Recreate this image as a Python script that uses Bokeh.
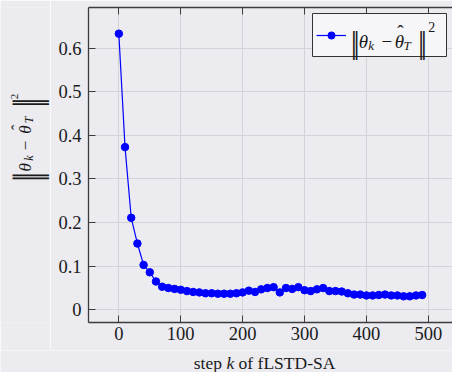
import math
from bokeh.plotting import figure
from bokeh.layouts import row, column
from bokeh.models import (Range1d, FixedTicker, LinearAxis, Label, Legend,
                          LegendItem, ColumnDataSource, BoxAnnotation)
from bokeh.embed import file_html
from bokeh.resources import INLINE

# ---------------- data ----------------
steps = [0, 10, 20, 30, 40, 50, 60, 70, 80, 90,
         100, 110, 120, 130, 140, 150, 160, 170, 180, 190,
         200, 210, 220, 230, 240, 250, 260, 270, 280, 290,
         300, 310, 320, 330, 340, 350, 360, 370, 380, 390,
         400, 410, 420, 430, 440, 450, 460, 470, 480, 490]
errors = [0.633, 0.373, 0.211, 0.152, 0.103, 0.086, 0.065, 0.053, 0.050, 0.048,
          0.046, 0.043, 0.041, 0.040, 0.038, 0.038, 0.037, 0.037, 0.037, 0.038,
          0.040, 0.044, 0.041, 0.047, 0.050, 0.052, 0.040, 0.050, 0.048, 0.052,
          0.045, 0.043, 0.047, 0.050, 0.043, 0.043, 0.042, 0.038, 0.035, 0.035,
          0.033, 0.033, 0.034, 0.035, 0.033, 0.033, 0.031, 0.031, 0.033, 0.034]

x_ticks = [0, 100, 200, 300, 400, 500]
x_tick_labels = ["0", "100", "200", "300", "400", "500"]
y_ticks = [0, 0.1, 0.2, 0.3, 0.4, 0.5, 0.6]
y_tick_labels = ["0", "0.1", "0.2", "0.3", "0.4", "0.5", "0.6"]
x_limits = (-49, 539)
y_limits = (-0.029, 0.693)
x_title_parts = ["step", "k", "of fLSTD-SA"]

# ---------------- style / layout ----------------
BG = "#ebebf0"
GRID = "#d2d2d8"
AXIS = "#3c3c3c"
TXT = "#1a1a1a"
BLUE = "#0000ff"
FONT = "Liberation Serif"
BASE_FIX = 0.35          # bokeh draws "alphabetic" text this many em lower

W, H = 452, 372
YLAB_W = 50              # strip holding the rotated y title
XLAB_H = 22              # strip holding the x title
MAIN_H = H - XLAB_H
FRAME_L, FRAME_T, FRAME_B = 88, 7, 322
FRAME_W = W - FRAME_L
FRAME_H = FRAME_B - FRAME_T

p = figure(width=W - YLAB_W, height=MAIN_H, output_backend="svg",
           toolbar_location=None,
           x_range=Range1d(*x_limits), y_range=Range1d(*y_limits),
           min_border_left=FRAME_L - YLAB_W, min_border_right=0,
           min_border_top=FRAME_T, min_border_bottom=MAIN_H - FRAME_B)
p.background_fill_color = BG
p.border_fill_color = BG
p.outline_line_color = None

p.xaxis.ticker = FixedTicker(ticks=x_ticks)
p.xaxis.major_label_overrides = dict(zip(x_ticks, x_tick_labels))
p.yaxis.ticker = FixedTicker(ticks=y_ticks)
p.yaxis.major_label_overrides = dict(zip(y_ticks, y_tick_labels))

for ax in (p.xaxis[0], p.yaxis[0]):
    ax.axis_line_color = AXIS
    ax.axis_line_width = 1.3
    ax.major_tick_line_color = AXIS
    ax.major_tick_in = 7
    ax.major_tick_out = 0
    ax.minor_tick_in = 0
    ax.minor_tick_out = 0
    ax.major_label_text_font = FONT
    ax.major_label_text_font_size = "18.5px"
    ax.major_label_text_color = TXT
    ax.axis_label = None
p.xaxis.major_label_standoff = 4
p.yaxis.major_label_standoff = 7

top_axis = LinearAxis(ticker=FixedTicker(ticks=x_ticks),
                      major_label_overrides={t: "" for t in x_ticks},
                      major_label_text_font_size="0px", major_label_standoff=0,
                      axis_line_color=AXIS, axis_line_width=1.3,
                      major_tick_line_color=AXIS, major_tick_in=7, major_tick_out=0,
                      minor_tick_in=0, minor_tick_out=0)
p.add_layout(top_axis, "above")

p.xgrid.grid_line_color = GRID
p.ygrid.grid_line_color = GRID

src = ColumnDataSource(dict(step=steps, err=errors))
r_line = p.line("step", "err", source=src, line_color=BLUE, line_width=1.2)
r_dot = p.scatter("step", "err", source=src, size=7.5, fill_color=BLUE,
                  line_color=BLUE)

# legend frame (opaque box) placed by pixel offsets from the frame's top-right
dxp = (x_limits[1] - x_limits[0]) / FRAME_W
dyp = (y_limits[1] - y_limits[0]) / FRAME_H
p.add_layout(BoxAnnotation(left=x_limits[1] - 140 * dxp, right=x_limits[1] - 6 * dxp,
                           top=y_limits[1] - 6 * dyp, bottom=y_limits[1] - 49 * dyp,
                           fill_color="#f6f6f8", fill_alpha=1,
                           line_color="#333333", line_width=1, line_alpha=1))

legend = Legend(items=[LegendItem(label="\u00a0", renderers=[r_line, r_dot])],
                location="top_right", margin=6, padding=4, spacing=0,
                glyph_width=30, glyph_height=18, label_width=90, label_height=35,
                label_standoff=6, label_text_font_size="1px",
                border_line_alpha=0, background_fill_alpha=0)
p.add_layout(legend)


def strip(w, h):
    f = figure(width=w, height=h, output_backend="svg", toolbar_location=None,
               x_range=Range1d(0, w), y_range=Range1d(0, h),
               x_axis_type=None, y_axis_type=None, min_border=0)
    f.background_fill_color = BG
    f.border_fill_color = BG
    f.outline_line_color = None
    return f


def piece(fig, ax, ay, ox, oy, text, size, style="normal", angle=0.0):
    fig.add_layout(Label(x=ax, y=ay, x_offset=ox, y_offset=oy, text=text,
                         angle=angle, text_font=FONT, text_font_size=f"{size}px",
                         text_font_style=style, text_color=TXT, level="overlay",
                         text_align="left", text_baseline="alphabetic"))


# norm expression ||theta_k - hat theta_T||^2 : (text, along, across, size, style)
legend_math = [("|", -2.4, -5.2, 31, "normal"), ("|", 0.3, -5.2, 31, "normal"),
               ("θ", 5.5, 0, 19, "italic"), ("k", 15, -2, 13, "italic"),
               ("−", 28.4, 0, 19, "normal"),
               ("θ", 41.5, 0, 19, "italic"), ("ˆ", 44.0, 9.5, 19, "normal"),
               ("T", 50.3, -2.5, 13, "italic"),
               ("|", 64.9, -5.2, 31, "normal"), ("|", 67.6, -5.2, 31, "normal"),
               ("2", 75.0, 16.4, 14, "normal")]
ylabel_math = [("|", -3.1, -8.8, 39, "normal"), ("|", -0.1, -8.8, 39, "normal"),
               ("θ", 7.6, 0, 17, "italic"), ("k", 18.5, -2, 12, "italic"),
               ("−", 29, 0, 17, "normal"),
               ("θ", 45.5, 0, 17, "italic"), ("ˆ", 49, 7.5, 17, "normal"),
               ("T", 56, -2, 12, "italic"),
               ("|", 71.1, -8.8, 39, "normal"), ("|", 74.1, -8.8, 39, "normal"),
               ("2", 80, 12.2, 11, "normal")]

# legend text, anchored at the frame's top-right corner
LX0, LY0 = 352.7 - W, -(47.3 - FRAME_T)
for t, a, c, s, st in legend_math:
    piece(p, x_limits[1], y_limits[1], LX0 + a, LY0 + c + BASE_FIX * s, t, s, st)

# y title strip (rotated), anchored at the strip's bottom-left
ylab = strip(YLAB_W, MAIN_H)
YX0, YY0 = 30.5, MAIN_H - 206.7
for t, a, c, s, st in ylabel_math:
    cc = c + BASE_FIX * s
    piece(ylab, 0, 0, YX0 - cc, YY0 + a, t, s, st, angle=math.pi / 2)

# x title strip
xlab = strip(W, XLAB_H)
XB = H - 368.3 + BASE_FIX * 17.5
piece(xlab, 0, 0, 193.3, XB, x_title_parts[0], 17.5)
piece(xlab, 0, 0, 225.9, XB, x_title_parts[1], 17.5, "italic")
piece(xlab, 0, 0, 238.1, XB, x_title_parts[2], 17.5)

layout = column(row(ylab, p, spacing=0), xlab, spacing=0)
open("out.html", "w").write(file_html(layout, INLINE))
